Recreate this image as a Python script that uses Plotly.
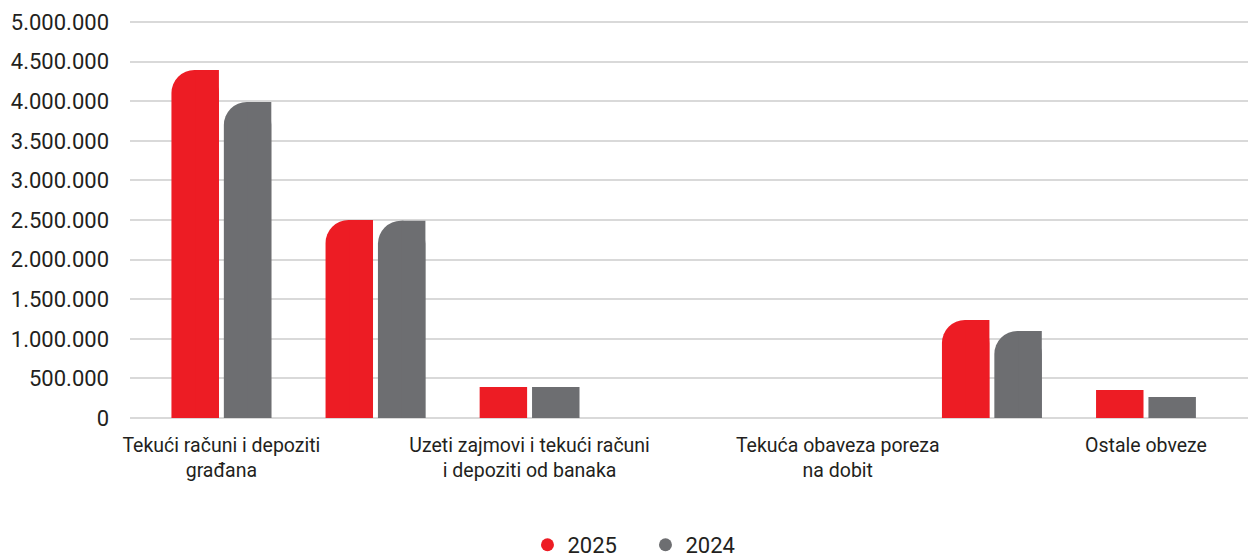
import plotly.graph_objects as go

# ---- data ----
tick_labels = [
    "Tekući računi i depoziti<br>građana",
    "Uzeti zajmovi i tekući računi<br>i depoziti od banaka",
    "Tekuća obaveza poreza<br>na dobit",
    "Ostale obveze",
]
labelled_slots = [0, 2, 4, 6]
series_names = ["2025", "2024"]
values_2025 = [4394000, 2500000, 391000, 0, 0, 1237000, 353000]
values_2024 = [3990000, 2491000, 391000, 0, 0, 1098000, 265000]
colors = ["#ED1C24", "#6D6E71"]

FONT = "Roboto"
TEXT = "#231F20"

x = list(range(len(values_2025)))
bar_w = 0.308
gap = 0.016
offsets = [-gap - bar_w, gap]
ROUND_MIN = 1_000_000  # short bars are drawn flat in the reference

fig = go.Figure()
for name, vals, col, off in zip(series_names, [values_2025, values_2024], colors, offsets):
    tall = [v if v >= ROUND_MIN else None for v in vals]
    short = [v if v < ROUND_MIN else None for v in vals]
    # rounded body (tall bars)
    fig.add_trace(go.Bar(x=x, y=tall, width=bar_w, offset=off, name=name,
                         marker=dict(color=col, cornerradius="50%", line_width=0),
                         showlegend=False))
    # square right half -> only top-left corner stays rounded
    fig.add_trace(go.Bar(x=x, y=tall, width=bar_w / 2, offset=off + bar_w / 2, name=name,
                         marker=dict(color=col, line_width=0), showlegend=False,
                         hoverinfo="skip"))
    # flat short bars
    fig.add_trace(go.Bar(x=x, y=short, width=bar_w, offset=off, name=name,
                         marker=dict(color=col, line_width=0), showlegend=False))
    # legend marker (circle)
    fig.add_trace(go.Scatter(x=[None], y=[None], mode="markers", name=name,
                             marker=dict(color=col, size=13, symbol="circle")))

# page has an 8px body margin: figure is shifted by 8px right/down
fig.update_layout(
    width=1256, height=600,
    barmode="overlay",
    separators=",.",
    plot_bgcolor="white", paper_bgcolor="white",
    margin=dict(l=122, r=8, t=12, b=190),
    font=dict(family=FONT, color=TEXT, size=19.5),
    showlegend=True,
    legend=dict(orientation="h", x=0.353, xanchor="left", y=-0.319, yanchor="middle",
                font=dict(size=22, family=FONT, color=TEXT), itemwidth=30,
                entrywidth=73, entrywidthmode="pixels", traceorder="normal"),
)
fig.update_xaxes(range=[-0.593, 6.714], tickmode="array", tickvals=labelled_slots,
                 ticktext=tick_labels, showgrid=False, zeroline=False, showline=False,
                 ticks="", automargin=False, ticklabelstandoff=13,
                 tickfont=dict(size=19.5, family=FONT, color=TEXT))
fig.update_yaxes(range=[0, 5025253], tickvals=list(range(0, 5000001, 500000)),
                 tickformat=",d", showgrid=True, automargin=False,
                 gridcolor="#D9D9D9", gridwidth=1.5, zeroline=True, zerolinecolor="#D9D9D9",
                 zerolinewidth=1.5, showline=False, ticks="", ticklabelstandoff=20,
                 tickfont=dict(size=22, family=FONT, color=TEXT))

fig.write_html("out.html")
